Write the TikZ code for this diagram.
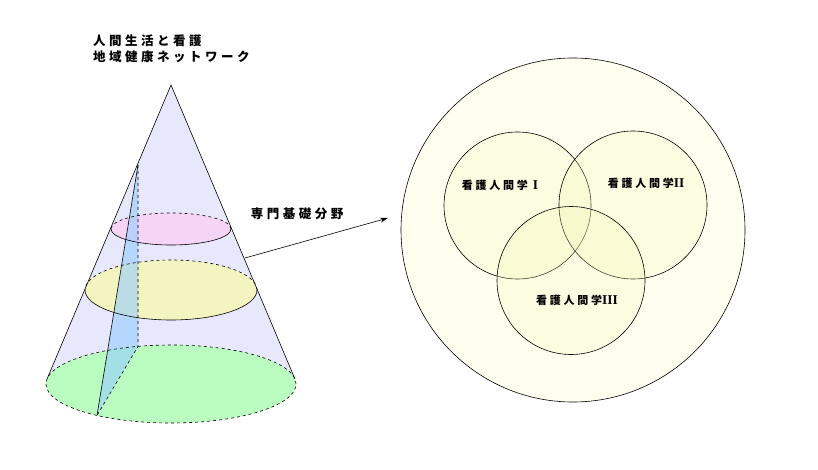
\documentclass[tikz,border=0pt]{standalone}
\usepackage{fontspec}
\newfontfamily\jpA[LetterSpace=28]{Noto Sans CJK JP}
\newfontfamily\jpB[LetterSpace=25]{Noto Sans CJK JP}
\newfontfamily\romanfont{Liberation Serif}
\usetikzlibrary{arrows.meta,calc}
\definecolor{conefill}{RGB}{232,232,252}
\definecolor{pinkfill}{RGB}{245,212,246}
\definecolor{yellowfill}{RGB}{244,244,192}
\definecolor{greenfill}{RGB}{186,252,192}
\definecolor{bluefill}{RGB}{150,205,255}
\definecolor{ivory}{RGB}{255,255,240}
\definecolor{venn}{RGB}{245,245,185}
\newcommand{\rnum}[1]{{\romanfont\bfseries\fontsize{13.5}{14}\selectfont #1}}
\tikzset{
  hidden/.style={draw=black, dashed, line width=0.6pt},
  edge/.style={draw=black, line width=0.6pt},
  titletext/.style={font=\jpA\bfseries\fontsize{12.5}{16}\selectfont, inner sep=0pt},
  venntext/.style={font=\jpB\bfseries\fontsize{11}{13}\selectfont, inner sep=0pt},
  venncircle/.style={draw=black, line width=0.6pt, fill=venn, fill opacity=0.28},
}
\begin{document}
\begin{tikzpicture}[x=1pt,y=1pt]
\useasboundingbox (0,0) rectangle (818,469);
% ---------- cone ----------
\coordinate (apex) at (171,384);
\coordinate (base) at (171,85);
\coordinate (tl) at (47.1,90.1);
\coordinate (tr) at (294.9,90.1);
\coordinate (yc) at (171,179);
\coordinate (pc) at (171,240);
% cone body fill
\fill[conefill] (apex) -- (tr) arc[start angle=-7.5, end angle=-172.5, x radius=125pt, y radius=39pt] -- cycle;
% base ellipse
\path[fill=greenfill] (base) ellipse[x radius=125pt, y radius=39pt];
% yellow ellipse
\path[fill=yellowfill] (yc) ellipse[x radius=86pt, y radius=30pt];
% pink ellipse
\path[fill=pinkfill] (pc) ellipse[x radius=60pt, y radius=16pt];
% cross-section triangle
\coordinate (T) at (138,304);
\coordinate (B) at ($(base)+(105.3:125pt and 39pt)$);
\coordinate (F) at ($(base)+(233.7:125pt and 39pt)$);
\fill[bluefill, fill opacity=0.6] (T) -- (B) -- (F) -- cycle;
% ellipse outlines
\draw[hidden] ($(base)+(125pt,0)$) arc[start angle=0, end angle=180, x radius=125pt, y radius=39pt];
\draw[hidden] ($(base)+(-125pt,0)$) arc[start angle=180, end angle=360, x radius=125pt, y radius=39pt];
\draw[hidden] ($(yc)+(86pt,0)$) arc[start angle=0, end angle=180, x radius=86pt, y radius=30pt];
\draw[edge] ($(yc)+(-86pt,0)$) arc[start angle=180, end angle=360, x radius=86pt, y radius=30pt];
\draw[hidden] ($(pc)+(60pt,0)$) arc[start angle=0, end angle=180, x radius=60pt, y radius=16pt];
\draw[edge] ($(pc)+(-60pt,0)$) arc[start angle=180, end angle=360, x radius=60pt, y radius=16pt];
% triangle edges
\draw[hidden] (T) -- (B) -- (F);
\draw[edge] (T) -- (F);
% cone sides
\draw[edge] (tl) -- (apex) -- (tr);
% title
\node[titletext, anchor=north west, align=left] (title) at (93,434) {人間生活と看護\\地域健康ネットワーク};
% label and arrow
\node[titletext] (senmon) at (297,255) {専門基礎分野};
\coordinate (astart) at (245,211);
\coordinate (aend) at (388,251);
\draw[edge, -{Stealth[length=8pt, width=5pt]}] (astart) -- (aend);
% ---------- venn ----------
\node[circle, draw=black, line width=0.6pt, fill=ivory, minimum size=344pt, inner sep=0pt] (big) at (573,239) {};
\path[venncircle] (517.5,263.5) circle[radius=73.5pt];
\path[venncircle] (633,264) circle[radius=74pt];
\path[venncircle] (571,188.5) circle[radius=74pt];
\node[venntext] (l1) at (500,284) {看護人間学\hspace{5pt}\rnum{I}};
\node[venntext] (l2) at (646,286) {看護人間学\rnum{II}};
\node[venntext] (l3) at (577,169) {看護人間学\rnum{III}};
\end{tikzpicture}
\end{document}
